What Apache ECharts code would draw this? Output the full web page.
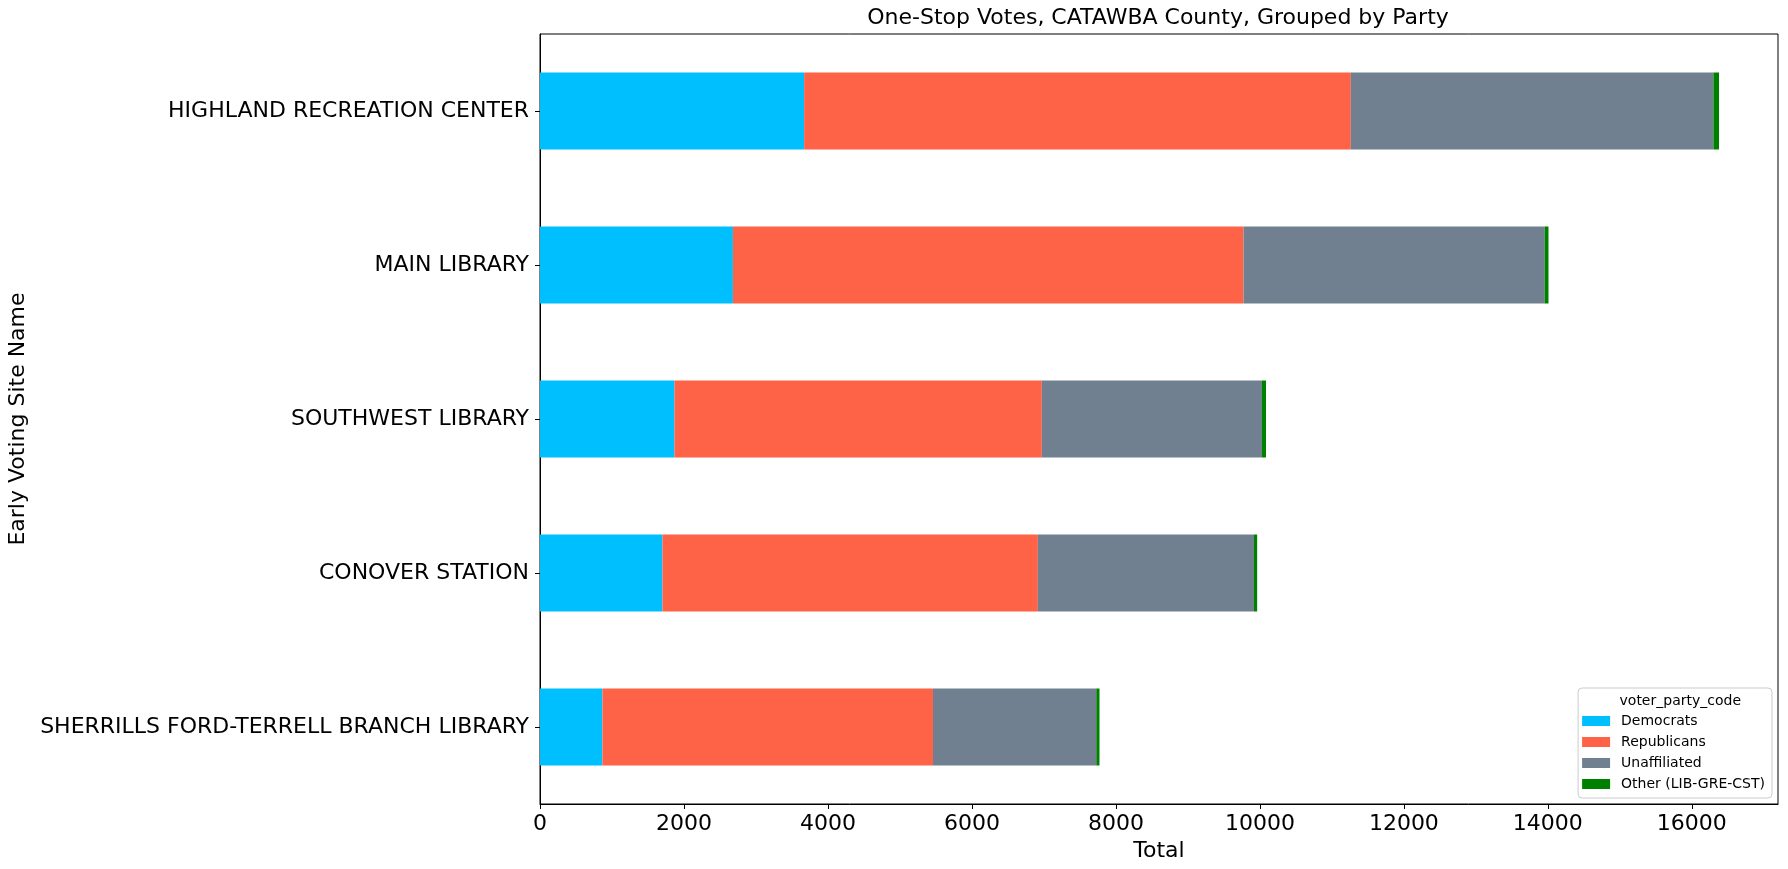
<!DOCTYPE html>
<html>
<head>
<meta charset="utf-8">
<script src="https://cdn.jsdelivr.net/npm/echarts@6/dist/echarts.min.js"></script>
<style>
  html, body { margin: 0; padding: 0; background: #fff; }
  #chart { width: 1788px; height: 869px; }
</style>
</head>
<body>
<div id="chart"></div>
<script>
// Data (bottom to top, as drawn)
var sites = [
  'SHERRILLS FORD-TERRELL BRANCH LIBRARY',
  'CONOVER STATION',
  'SOUTHWEST LIBRARY',
  'MAIN LIBRARY',
  'HIGHLAND RECREATION CENTER'
];
var democrats    = [867, 1701, 1868, 2680, 3669];
var republicans  = [4592, 5215, 5103, 7093, 7594];
var unaffiliated = [2268, 3002, 3058, 4181, 5037];
var other        = [45, 44, 56, 55, 78];
var seriesNames  = ['Democrats', 'Republicans', 'Unaffiliated', 'Other (LIB-GRE-CST)'];
var seriesColors = ['#00BFFF', '#FF6347', '#708090', '#008000'];
var xTickInterval = 2000;

var FONT = 'DejaVu Sans';
var totals = sites.map(function (_, i) {
  return democrats[i] + republicans[i] + unaffiliated[i] + other[i];
});
var xMax = Math.max.apply(null, totals) * 1.05;
var values = [democrats, republicans, unaffiliated, other];

var chart = echarts.init(document.getElementById('chart'), null, { renderer: 'canvas' });
chart.setOption({
  animation: false,
  backgroundColor: '#ffffff',
  title: {
    text: 'One-Stop Votes, CATAWBA County, Grouped by Party',
    left: 1158,
    textAlign: 'center',
    top: 7,
    padding: 0,
    textStyle: { fontFamily: FONT, fontSize: 22, fontWeight: 'normal', color: '#000' }
  },
  grid: {
    left: 540, right: 10, top: 34, bottom: 65,
    show: true, borderColor: '#000', borderWidth: 1, backgroundColor: 'transparent',
    containLabel: false,
    outerBoundsMode: 'none'
  },
  legend: {
    data: seriesNames,
    orient: 'vertical',
    right: 16,
    top: 688,
    icon: 'rect',
    itemWidth: 28,
    itemHeight: 10,
    itemGap: 7,
    padding: [26, 7, 7, 4],
    borderColor: '#cccccc',
    borderWidth: 1,
    borderRadius: 4,
    backgroundColor: 'rgba(255,255,255,0.8)',
    selectedMode: false,
    textStyle: { fontFamily: FONT, fontSize: 14, color: '#000', padding: [0, 0, 0, 6] }
  },
  graphic: [{
    type: 'text',
    right: 47,
    top: 694,
    style: { text: 'voter_party_code', font: '14px "DejaVu Sans"', fill: '#000' },
    z: 100
  }],
  xAxis: {
    type: 'value',
    min: 0,
    max: xMax,
    interval: xTickInterval,
    name: 'Total',
    nameLocation: 'middle',
    nameGap: 33,
    nameTextStyle: { fontFamily: FONT, fontSize: 22, color: '#000' },
    axisLine: { show: true, lineStyle: { color: '#000', width: 1 } },
    axisTick: { show: true, length: 5, lineStyle: { color: '#000', width: 1 } },
    axisLabel: {
      fontFamily: FONT, fontSize: 22, color: '#000', margin: 9, showMaxLabel: false,
      formatter: function (v) { return String(Math.round(v)); }
    },
    splitLine: { show: false }
  },
  yAxis: {
    type: 'category',
    data: sites,
    name: 'Early Voting Site Name',
    nameLocation: 'middle',
    nameGap: 509,
    nameRotate: 90,
    nameTextStyle: { fontFamily: FONT, fontSize: 22, color: '#000' },
    axisLine: { show: true, lineStyle: { color: '#000', width: 1 } },
    axisTick: { show: true, length: 5, alignWithLabel: true, lineStyle: { color: '#000', width: 1 } },
    axisLabel: { fontFamily: FONT, fontSize: 22, color: '#000', margin: 11 },
    splitLine: { show: false }
  },
  series: seriesNames.map(function (name, k) {
    return {
      name: name,
      type: 'bar',
      stack: 'total',
      barWidth: '50%',
      data: values[k],
      itemStyle: { color: seriesColors[k] },
      emphasis: { disabled: true }
    };
  })
});
</script>
</body>
</html>
